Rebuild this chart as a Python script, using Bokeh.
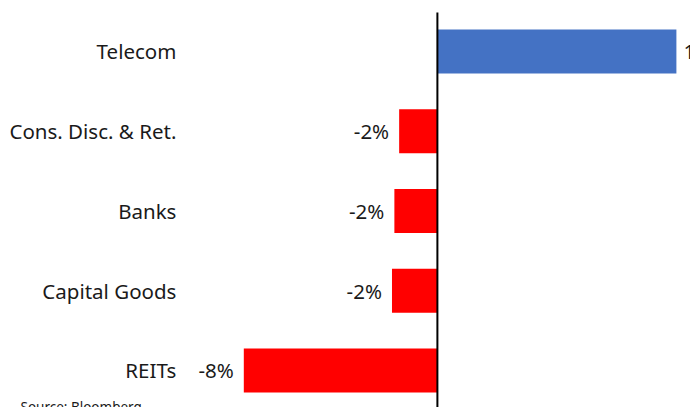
from bokeh.plotting import figure
from bokeh.models import Range1d, Label, ColumnDataSource
from bokeh.embed import file_html
from bokeh.resources import INLINE
from bokeh.core.properties import value

# Data (top to bottom in the picture)
categories = ["Telecom", "Cons. Disc. & Ret.", "Banks", "Capital Goods", "REITs"]
returns_pct = [10.0, -1.6, -1.8, -1.9, -8.1]
source_note = "Source: Bloomberg"

POS = "#4472C4"
NEG = "#FF0000"
FONT = "Noto Sans"
TXT = "#1a1a1a"

n = len(categories)
ypos = [n - 1 - i for i in range(n)]  # Telecom at top
colors = [POS if v >= 0 else NEG for v in returns_pct]
labels = [f"{v:.0f}%" for v in returns_pct]

src = ColumnDataSource(dict(y=ypos, v=returns_pct, c=colors, lab=labels, cat=categories,
                            zero=[0] * n,
                            align=["left" if v >= 0 else "right" for v in returns_pct],
                            off=[7 if v >= 0 else -10 for v in returns_pct]))

Y0, Y1 = -0.464, 4.6395
p = figure(width=690, height=407, output_backend="svg", toolbar_location=None,
           x_range=Range1d(-18.28, 10.59), y_range=Range1d(Y0, Y1),
           x_axis_location=None, y_axis_location=None,
           min_border_left=0, min_border_right=0,
           min_border_top=0, min_border_bottom=0)
p.outline_line_color = None
p.grid.visible = False
p.background_fill_color = "white"
p.border_fill_color = "white"

p.hbar(y="y", right="v", left=0, height=0.55, fill_color="c", line_color=None, source=src)

# zero axis line
p.segment(x0=[0], y0=[Y0], x1=[0], y1=[4.489], line_color="#000000", line_width=2)

# value labels
p.text(x="v", y="y", text="lab", text_align="align", text_baseline="middle",
       x_offset="off", text_font=value(FONT), text_font_size="20.5px",
       text_color=TXT, source=src)

# category labels, anchored to the zero line and pushed left by a fixed pixel gap
p.text(x="zero", y="y", text="cat", text_align="right", text_baseline="middle",
       x_offset=-261, text_font=value(FONT), text_font_size="20.5px",
       text_color=TXT, source=src)

p.add_layout(Label(x=20, y=10, x_units="screen", y_units="screen", text=source_note,
                   text_font=FONT, text_font_size="13.5px", text_color=TXT,
                   text_baseline="top"))

open("out.html", "w").write(file_html(p, INLINE))
